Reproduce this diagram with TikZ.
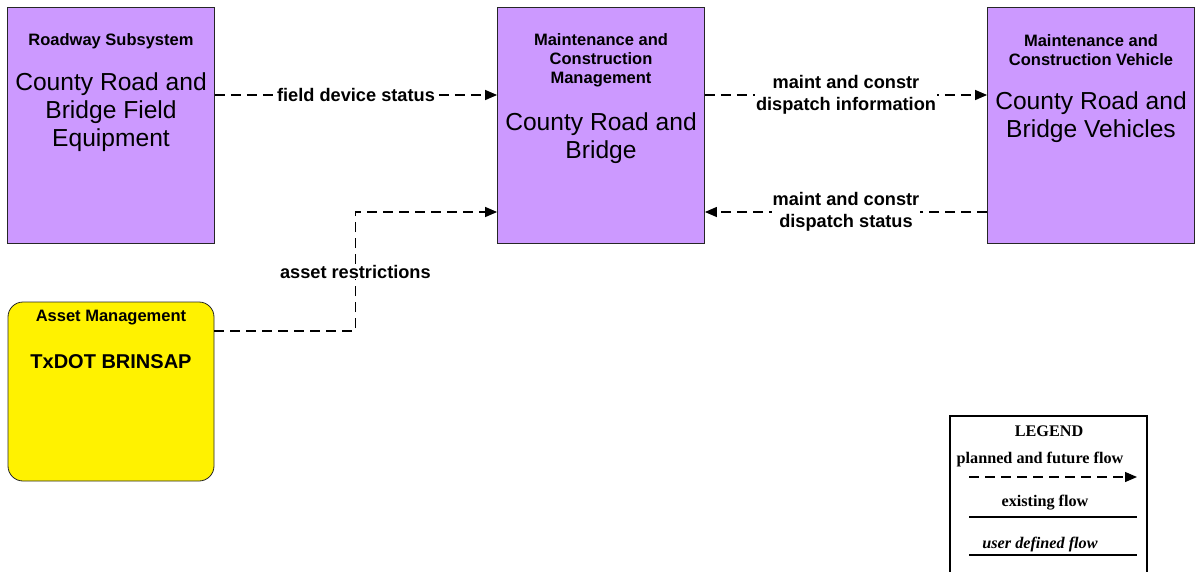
\documentclass[tikz,border=0pt]{standalone}
\usepackage{fontspec}
\setmainfont{Liberation Sans}
\newfontfamily\legserif{Liberation Serif}
\usetikzlibrary{positioning,arrows.meta}
\definecolor{subsyspurple}{RGB}{204,153,255}
\tikzset{
    subsys/.style={
        draw=black!85,
        line width=0.8pt,
        fill=subsyspurple,
        minimum width=207pt,
        minimum height=236pt
    },
    termbox/.style={
        draw=black!85,
        line width=0.8pt,
        fill=yellow,
        rounded corners=15pt,
        minimum width=206pt,
        minimum height=179pt
    },
    headtxt/.style={
        font=\bfseries\fontsize{16.5}{19}\selectfont,
        align=center
    },
    bigname/.style={
        font=\fontsize{24.6}{28}\selectfont,
        align=center
    },
    flow/.style={
        dash pattern=on 10pt off 6pt,
        line width=1.3pt,
        -{Triangle[length=12pt,width=10pt]}
    },
    flowlabel/.style={
        font=\bfseries\fontsize{18.2}{22}\selectfont,
        align=center,
        fill=white,
        inner sep=1pt
    },
    legtxt/.style={
        font=\legserif\bfseries\fontsize{16.2}{18}\selectfont
    }
}

\begin{document}
\begin{tikzpicture}[x=1pt,y=-1pt]
\useasboundingbox (0,0) rectangle (1195,571);
\clip (0,0) rectangle (1195,571);

% subsystems
\node[subsys] (fieldeq) at (111,125) {};
\node[subsys] (mcm) at (601,125) {};
\node[subsys] (veh) at (1091,125) {};
\node[termbox] (asset) at (111,391.5) {};

\node[headtxt] (fieldeqhd) at (111,41) {Roadway Subsystem};
\node[bigname] (fieldeqnm) at (111,112) {County Road and\\Bridge Field\\Equipment};

\node[headtxt] (mcmhd) at (601,60) {Maintenance and\\Construction\\Management};
\node[bigname] (mcmnm) at (601,138) {County Road and\\Bridge};

\node[headtxt] (vehhd) at (1091,50.5) {Maintenance and\\Construction Vehicle};
\node[bigname] (vehnm) at (1091,117.5) {County Road and\\Bridge Vehicles};

\node[headtxt] (assethd) at (111,318) {Asset Management};
\node[font=\bfseries\fontsize{20}{24}\selectfont] (assetnm) at (111,362) {TxDOT BRINSAP};

% flows
\draw[flow] ([yshift=30pt]fieldeq.east) -- node[flowlabel] {field device status} ([yshift=30pt]mcm.west);
\draw[flow] ([yshift=30pt]mcm.east) -- node[flowlabel] {maint and constr\\dispatch information} ([yshift=30pt]veh.west);
\draw[flow] ([yshift=-87pt]veh.west) -- node[flowlabel] {maint and constr\\dispatch status} ([yshift=-87pt]mcm.east);
\draw[flow] ([yshift=60.5pt]asset.east) -- ++(141pt,0) |- node[flowlabel, pos=0.25] {asset restrictions} ([yshift=-87pt]mcm.west);

% legend
\node[draw, line width=1.5pt, minimum width=197pt, minimum height=180pt, anchor=north west] (legend) at (949,415) {};
\node[legtxt] (legtitle) at (1049,431) {LEGEND};
\node[legtxt] (legplan) at (1040,460) {planned and future flow};
\coordinate (plan0) at (969,477);
\coordinate (plan1) at (1137,477);
\draw[flow] (plan0) -- (plan1);
\node[legtxt] (legexist) at (1045,503) {existing flow};
\coordinate (exist0) at (969,517);
\coordinate (exist1) at (1137,517);
\draw[line width=1.2pt] (exist0) -- (exist1);
\node[legtxt] (leguser) at (1040,545) {\itshape user defined flow};
\coordinate (user0) at (969,555);
\coordinate (user1) at (1137,555);
\draw[line width=1.2pt] (user0) -- (user1);

\end{tikzpicture}
\end{document}
